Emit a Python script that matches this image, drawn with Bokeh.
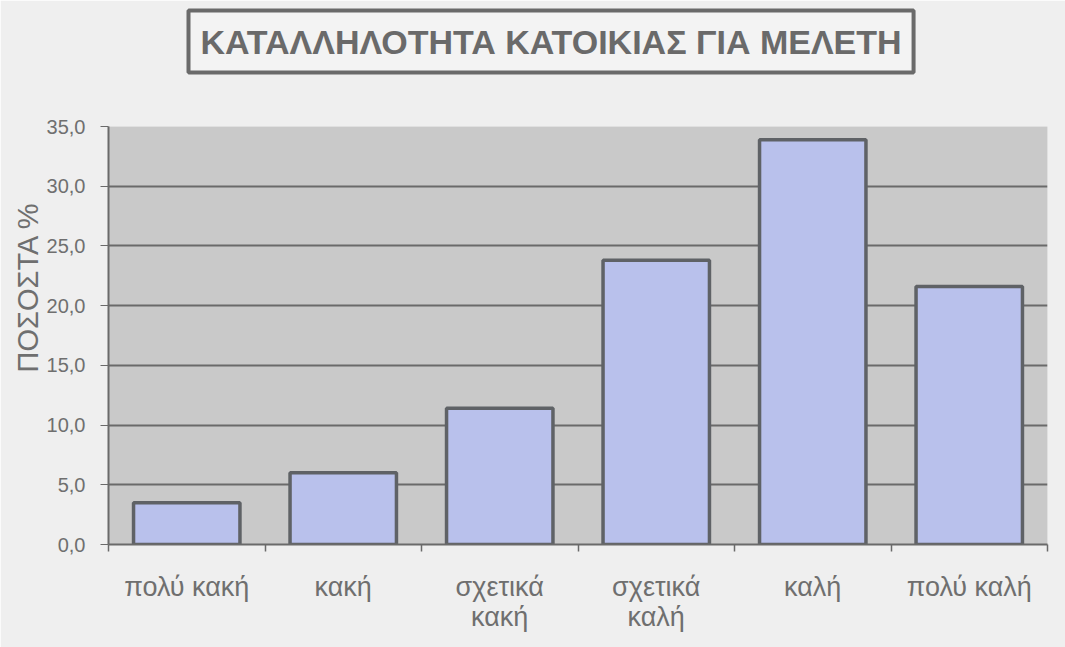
from bokeh.plotting import figure
from bokeh.models import FixedTicker, Range1d, Title
from bokeh.embed import file_html
from bokeh.resources import INLINE

categories = ["πολύ κακή", "κακή", "σχετικά\nκακή", "σχετικά\nκαλή", "καλή", "πολύ καλή"]
values = [3.5, 6.0, 11.4, 23.8, 33.9, 21.6]
y_ticks = [0, 5, 10, 15, 20, 25, 30, 35]
y_tick_labels = ["0,0", "5,0", "10,0", "15,0", "20,0", "25,0", "30,0", "35,0"]
title_text = "ΚΑΤΑΛΛΗΛΟΤΗΤΑ ΚΑΤΟΙΚΙΑΣ ΓΙΑ ΜΕΛΕΤΗ"
y_label = "ΠΟΣΟΣΤΑ %"

TXT = "#6f6f6f"
FONT = "Liberation Sans"

xs = [i + 0.5 for i in range(len(categories))]

p = figure(width=1065, height=647, output_backend="svg", toolbar_location=None,
           x_range=Range1d(0, len(categories)), y_range=Range1d(0, 35),
           min_border_left=108, min_border_right=18, min_border_top=126, min_border_bottom=103)

p.background_fill_color = "#c9c9c9"
p.border_fill_color = "#efefef"
p.outline_line_color = None

p.vbar(x=xs, top=values, width=0.68, fill_color="#b9c1ec",
       line_color="#5f6266", line_width=3.5)

# title
p.title.text = title_text
p.title.align = "left"
p.title.offset = 80
p.title.text_font = FONT
p.title.text_font_style = "bold"
p.title.text_font_size = "34px"
p.title.text_color = "#6a6a6a"
p.title.border_line_color = "#6a6a6a"
p.title.border_line_width = 4
p.title.background_fill_color = "#f3f3f3"
p.title.padding = 12
p.title.standoff = 0

# spacer between title box and plot area
p.add_layout(Title(text="\u00a0", text_font_size="46px", standoff=0, padding=0), "above")

# y axis
p.yaxis.ticker = FixedTicker(ticks=y_ticks)
p.yaxis.major_label_overrides = {t: l for t, l in zip(y_ticks, y_tick_labels)}
p.yaxis.minor_tick_line_color = None
p.yaxis.major_tick_in = 0
p.yaxis.major_tick_out = 8
p.yaxis.axis_line_color = "#6a6a6a"
p.yaxis.axis_line_width = 2
p.yaxis.major_tick_line_color = "#6a6a6a"
p.yaxis.major_label_text_font = FONT
p.yaxis.major_label_text_font_size = "20px"
p.yaxis.major_label_text_color = TXT
p.yaxis.major_label_standoff = 15
p.yaxis.axis_label = "\u00a0" * 12 + y_label
p.yaxis.axis_label_text_font = FONT
p.yaxis.axis_label_text_font_style = "normal"
p.yaxis.axis_label_text_font_size = "29px"
p.yaxis.axis_label_text_color = TXT
p.yaxis.axis_label_standoff = 0

# x axis
p.xaxis.ticker = FixedTicker(ticks=xs, minor_ticks=list(range(len(categories) + 1)))
p.xaxis.major_label_overrides = {x: c for x, c in zip(xs, categories)}
p.xaxis.major_tick_line_color = None
p.xaxis.minor_tick_in = 0
p.xaxis.minor_tick_out = 7
p.xaxis.minor_tick_line_color = "#6a6a6a"
p.xaxis.minor_tick_line_width = 1.5
p.xaxis.axis_line_color = "#6a6a6a"
p.xaxis.axis_line_width = 2
p.xaxis.major_label_text_font = FONT
p.xaxis.major_label_text_font_size = "27px"
p.xaxis.major_label_text_line_height = 1.0
p.xaxis.major_label_text_color = TXT
p.xaxis.major_label_standoff = 20

# grid
p.xgrid.grid_line_color = None
p.ygrid.ticker = FixedTicker(ticks=y_ticks)
p.ygrid.grid_line_color = "#6a6a6a"
p.ygrid.grid_line_width = 2

open("out.html", "w").write(file_html(p, INLINE))
